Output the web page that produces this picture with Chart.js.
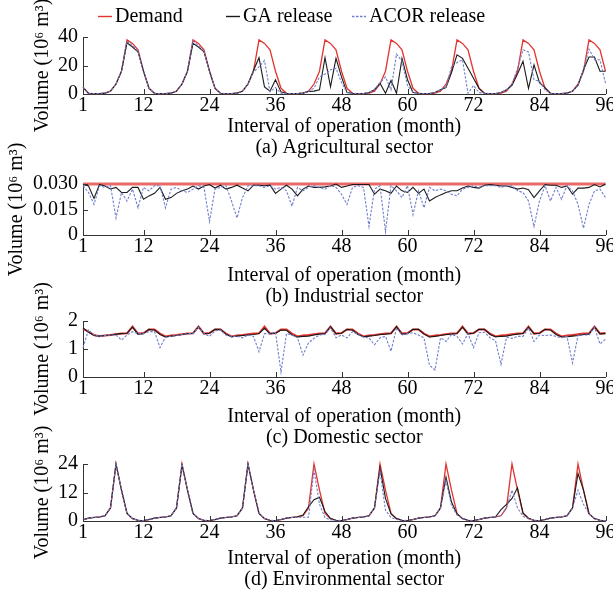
<!DOCTYPE html>
<html><head><meta charset="utf-8">
<script src="https://cdn.jsdelivr.net/npm/chart.js@4"></script>
<style>
html,body{margin:0;padding:0;background:#fff;}
#wrap{position:relative;width:613px;height:590px;overflow:hidden;background:#fff;}
canvas{position:absolute;left:0;top:0;}
</style></head><body>
<div id="wrap">
<canvas id="cA" width="613" height="590"></canvas>
<canvas id="cB" width="613" height="590"></canvas>
<canvas id="cC" width="613" height="590"></canvas>
<canvas id="cD" width="613" height="590"></canvas>
</div>
<script>
// ---------- data ----------
const months = Array.from({length: 96}, (_, i) => i + 1);
const xTickValues = [1, 12, 24, 36, 48, 60, 72, 84, 96];
const seriesNames = ['Demand', 'GA release', 'ACOR release'];
const yAxisTitle = 'Volume (10\u2076 m\u00B3)';
const xAxisTitle = 'Interval of operation (month)';
const captions = ['(a) Agricultural sector', '(b) Industrial sector', '(c) Domestic sector', '(d) Environmental sector'];

const agrTicks = [0, 20, 40];
const agrTickLabels = ['0', '20', '40'];
const agrDemand = [
 4.7,0.5,0.3,0.3,0.6,2,7,16,38,35.5,31,16,
 4,0.5,0.3,0.3,0.6,2,7,16,38,35.5,31,16,
 4,0.5,0.3,0.3,0.6,2,7,16,38,35.5,31,16,
 4,0.5,0.3,0.3,0.6,2,7,16,38,35.5,31,16,
 4,0.5,0.3,0.3,0.6,2,7,16,38,35.5,31,16,
 4,0.5,0.3,0.3,0.6,2,7,16,38,35.5,31,16,
 4,0.5,0.3,0.3,0.6,2,7,16,38,35.5,31,16,
 4,0.5,0.3,0.3,0.6,2,7,16,38,35.5,31,16];
const agrGA = [
 4.7,0.5,0.3,0.3,0.6,2,7,16,36,33,29.5,16,
 4,0.5,0.3,0.3,0.6,2,7,16,35.5,33,29.5,16,
 4,0.5,0.3,0.3,0.6,2,7,16.5,25.5,5,2,10,
 1.5,0.4,0.3,0.3,0.6,1.8,2,3,25.5,5,25,12,
 1,0.5,0.3,0.3,1,3,7.5,0.5,9.5,0.5,25,10,
 1,0.5,0.3,0.3,1,3,4.5,15,27.5,25,18,11,
 4,0.5,0.3,0.3,1,3,6,14,23,4,20.5,8,
 4.5,0.5,0.3,0.3,0.6,2,6,17,26,26,16,16];
const agrACOR = [
 4.7,0.5,0.3,0.3,0.6,2,7,16,37,34,30,16,
 4,0.5,0.3,0.3,0.6,2,7,16,37,34,30,16,
 4,0.5,0.3,0.3,0.6,2,7,15.5,19,23.5,1.6,4.5,
 0.5,0.3,0.3,0.3,0.6,2,4,12,14,17,18,8,
 1,0.5,0.3,0.3,1,3,8,12,3,28,23,6,
 1,0.5,0.3,0.3,1,3,5,19,22,24,0.5,6,
 1,0.5,0.3,0.3,1,3,7,18,31,29.5,10,9,
 3,0.5,0.3,0.3,0.6,2,6,17,31.5,24,24,7.5];

const indTicks = [0, 0.015, 0.03];
const indTickLabels = ['0', '0.015', '0.030'];
const indDemand = [
 0.03,0.03,0.03,0.03,0.03,0.03,0.03,0.03,0.03,0.03,0.03,0.03,
 0.03,0.03,0.03,0.03,0.03,0.03,0.03,0.03,0.03,0.03,0.03,0.03,
 0.03,0.03,0.03,0.03,0.03,0.03,0.03,0.03,0.03,0.03,0.03,0.03,
 0.03,0.03,0.03,0.03,0.03,0.03,0.03,0.03,0.03,0.03,0.03,0.03,
 0.03,0.03,0.03,0.03,0.03,0.03,0.03,0.03,0.03,0.03,0.03,0.03,
 0.03,0.03,0.03,0.03,0.03,0.03,0.03,0.03,0.03,0.03,0.03,0.03,
 0.03,0.03,0.03,0.03,0.03,0.03,0.03,0.03,0.03,0.03,0.03,0.03,
 0.03,0.03,0.03,0.03,0.03,0.03,0.03,0.03,0.03,0.03,0.03,0.03];
const indGA = [
 0.0297,0.0288,0.0215,0.0297,0.0288,0.0271,0.028,0.025,0.025,0.028,
 0.028,0.021,0.023,0.0245,0.028,0.021,0.022,0.0245,0.026,0.027,
 0.0288,0.027,0.0288,0.0297,0.0276,0.0293,0.027,0.028,0.0293,0.0276,
 0.026,0.0293,0.0293,0.029,0.0293,0.0245,0.027,0.0293,0.027,0.023,
 0.027,0.0288,0.028,0.028,0.0283,0.0288,0.030,0.028,0.0288,0.0297,
 0.0297,0.0297,0.0297,0.024,0.027,0.026,0.0245,0.0288,0.026,0.025,
 0.028,0.0245,0.027,0.020,0.022,0.0236,0.025,0.026,0.026,0.0276,
 0.0288,0.028,0.0276,0.0293,0.0297,0.0293,0.0288,0.0288,0.028,0.027,
 0.0276,0.0266,0.022,0.026,0.0297,0.0293,0.0293,0.028,0.0288,0.024,
 0.0276,0.0276,0.028,0.0297,0.0283,0.030];
const indACOR = [
 0.029,0.025,0.018,0.029,0.028,0.029,0.010,0.025,0.020,0.027,
 0.016,0.028,0.026,0.029,0.029,0.016,0.027,0.028,0.026,0.025,
 0.027,0.029,0.028,0.008,0.027,0.028,0.029,0.020,0.010,0.022,
 0.029,0.029,0.029,0.028,0.029,0.027,0.028,0.026,0.017,0.028,
 0.026,0.028,0.029,0.028,0.027,0.029,0.028,0.024,0.018,0.028,
 0.029,0.028,0.005,0.027,0.029,0.002,0.029,0.026,0.022,0.029,
 0.012,0.026,0.016,0.028,0.026,0.027,0.026,0.024,0.023,0.027,
 0.028,0.029,0.028,0.029,0.029,0.029,0.028,0.029,0.029,0.026,
 0.025,0.020,0.005,0.020,0.029,0.020,0.028,0.021,0.029,0.026,
 0.018,0.004,0.018,0.026,0.027,0.022];

const domTicks = [0, 1, 2];
const domTickLabels = ['0', '1', '2'];
const domDemand = [
 1.72,1.62,1.50,1.46,1.48,1.50,1.53,1.55,1.56,1.80,1.55,1.57,
 1.70,1.70,1.55,1.45,1.48,1.50,1.53,1.55,1.56,1.80,1.55,1.57,
 1.70,1.70,1.55,1.45,1.48,1.50,1.53,1.55,1.56,1.80,1.55,1.57,
 1.70,1.70,1.55,1.45,1.48,1.50,1.53,1.55,1.56,1.80,1.55,1.57,
 1.70,1.70,1.55,1.45,1.48,1.50,1.53,1.55,1.56,1.80,1.55,1.57,
 1.70,1.70,1.55,1.45,1.48,1.50,1.53,1.55,1.56,1.80,1.55,1.57,
 1.70,1.70,1.55,1.45,1.48,1.50,1.53,1.55,1.56,1.80,1.55,1.57,
 1.70,1.70,1.55,1.45,1.48,1.50,1.53,1.55,1.56,1.80,1.55,1.57];
const domGA = [
 1.75,1.60,1.48,1.46,1.48,1.50,1.53,1.55,1.56,1.78,1.53,1.55,
 1.70,1.68,1.52,1.43,1.46,1.48,1.52,1.55,1.56,1.80,1.55,1.56,
 1.70,1.70,1.53,1.44,1.46,1.48,1.50,1.52,1.55,1.74,1.55,1.56,
 1.68,1.67,1.50,1.43,1.45,1.46,1.50,1.53,1.55,1.80,1.55,1.56,
 1.70,1.68,1.52,1.44,1.46,1.48,1.52,1.53,1.55,1.80,1.53,1.55,
 1.70,1.70,1.53,1.43,1.45,1.48,1.52,1.53,1.55,1.78,1.54,1.56,
 1.70,1.70,1.52,1.44,1.45,1.46,1.50,1.53,1.55,1.78,1.55,1.56,
 1.70,1.68,1.52,1.43,1.44,1.46,1.48,1.52,1.53,1.79,1.54,1.55];
const domACOR = [
 1.05,1.68,1.50,1.45,1.48,1.50,1.50,1.32,1.50,1.62,1.55,1.55,
 1.62,1.62,1.05,1.42,1.45,1.48,1.52,1.55,1.55,1.78,1.55,1.45,
 1.65,1.68,1.50,1.45,1.45,1.40,1.50,1.45,0.90,1.55,1.55,1.60,
 0.18,1.55,1.50,1.40,0.78,1.22,1.38,1.50,1.52,1.75,1.40,1.50,
 1.40,1.62,1.52,1.42,1.40,1.15,1.40,1.45,0.92,1.75,1.50,1.55,
 1.58,1.50,1.40,0.42,0.25,1.40,1.27,1.52,1.45,1.18,1.55,1.05,
 1.58,1.60,1.40,1.30,0.45,1.42,1.38,1.45,1.45,1.75,1.27,1.50,
 1.48,1.50,1.45,1.40,1.45,0.50,1.48,1.50,1.50,1.78,1.18,1.35];

const envTicks = [0, 12, 24];
const envTickLabels = ['0', '12', '24'];
const envDemand = [
 0.5,1.2,1.5,1.7,2.2,5.5,24,13,3.2,1,0.3,0.2,
 0.6,1.2,1.5,1.7,2.2,5.5,24,13,3.2,1,0.3,0.2,
 0.6,1.2,1.5,1.7,2.2,5.5,24,13,3.2,1,0.3,0.2,
 0.6,1.2,1.5,1.7,2.2,5.5,24,13,3.2,1,0.3,0.2,
 0.6,1.2,1.5,1.7,2.2,5.5,24,13,3.2,1,0.3,0.2,
 0.6,1.2,1.5,1.7,2.2,5.5,24,13,3.2,1,0.3,0.2,
 0.6,1.2,1.5,1.7,2.2,5.5,24,13,3.2,1,0.3,0.2,
 0.6,1.2,1.5,1.7,2.2,5.5,24,13,3.2,1,0.3,0.2];
const envGA = [
 0.5,1.2,1.5,1.7,2.2,5.5,24,13,3.2,1,0.3,0.2,
 0.6,1.2,1.5,1.7,2.2,5.5,23.5,13,3.2,1,0.3,0.2,
 0.6,1.2,1.5,1.7,2.2,5.5,24,13,3.2,1,0.3,0.2,
 0.6,1.2,1.5,1.8,2.5,6,9,10,4,1,0.3,0.2,
 0.6,1.2,1.5,1.7,2.2,5.5,22.5,9.5,3,1,0.3,0.2,
 0.6,1.2,1.5,1.7,2.2,5.5,18.5,8,3,1,0.3,0.2,
 0.6,1.2,1.5,1.7,4.8,7,9.5,14,3.4,1.2,0.3,0.2,
 0.6,1.2,1.5,1.7,2.2,5.5,20,13,3,1,0.3,0.2];
const envACOR = [
 0.5,1.2,1.5,1.7,2.2,5.5,24,13,3.2,1,0.3,0.2,
 0.6,1.2,1.5,1.7,2.2,5.5,24,13,3.2,1,0.3,0.2,
 0.6,1.2,1.5,1.7,2.2,5.5,24,13,3.2,1,0.3,0.2,
 0.6,1.2,1.5,1.6,1.6,1.6,21.5,7,1.4,0.5,0.3,0.2,
 0.6,1.2,1.5,1.7,2.2,5.5,21,4.5,1.5,0.6,0.3,0.2,
 0.6,1.2,1.5,1.7,2.2,5.5,17,6.5,2.5,1,0.3,0.2,
 0.6,1.2,1.5,1.7,2.2,5.5,13,5.5,2,1,0.3,0.2,
 0.6,1.2,1.5,1.7,2.2,5.5,13,7,3,1,0.3,0.2];

// ---------- style ----------
const FONT = '"Liberation Serif", "Times New Roman", serif';
const COLORS = {demand: '#e3342f', demandThick: '#e86a6a', ga: '#1a1a1a', acor: '#6f7fcc'};
Chart.defaults.font.family = FONT;
Chart.defaults.font.size = 20;
Chart.defaults.color = '#000';

const inwardTicks = {
  id: 'inwardTicks',
  afterDatasetsDraw(chart) {
    const {ctx, chartArea, scales} = chart;
    const x = scales.x, y = scales.y;
    ctx.save();
    ctx.strokeStyle = '#333';
    ctx.lineWidth = 1;
    ctx.beginPath();
    x.ticks.forEach(t => {
      const px = Math.round(x.getPixelForValue(t.value)) + 0.5;
      ctx.moveTo(px, chartArea.bottom);
      ctx.lineTo(px, chartArea.bottom - 5);
    });
    y.ticks.forEach(t => {
      const py = Math.round(y.getPixelForValue(t.value)) + 0.5;
      ctx.moveTo(chartArea.left, py);
      ctx.lineTo(chartArea.left + 5, py);
    });
    ctx.stroke();
    ctx.restore();
  }
};

const topLegend = {
  id: 'topLegend',
  afterDraw(chart, args, opts) {
    if (!opts || !opts.show) return;
    const ctx = chart.ctx;
    ctx.save();
    ctx.font = '20px ' + FONT;
    ctx.textBaseline = 'middle';
    ctx.fillStyle = '#000';
    seriesNames.forEach((name, i) => {
      const ds = chart.data.datasets.find(d => d.label === name);
      const x0 = opts.xs[i], y0 = opts.y;
      ctx.beginPath();
      ctx.strokeStyle = ds.borderColor;
      ctx.lineWidth = 1.4;
      ctx.setLineDash(ds.borderDash || []);
      ctx.moveTo(x0, y0 + 0.5);
      ctx.lineTo(x0 + 14, y0 + 0.5);
      ctx.stroke();
      ctx.setLineDash([]);
      ctx.fillText(name, x0 + 17, y0 + 1);
    });
    ctx.restore();
  }
};

function makeChart(id, demand, ga, acor, yTicks, yTickLabels, caption, L, demandWidth, demandColor) {
  const toPts = arr => arr.map((v, i) => ({x: months[i], y: v}));
  return new Chart(document.getElementById(id), {
    type: 'line',
    data: {
      datasets: [
        {label: seriesNames[0], data: toPts(demand), borderColor: demandColor, borderWidth: demandWidth, order: 2},
        {label: seriesNames[1], data: toPts(ga), borderColor: COLORS.ga, borderWidth: 1.1, order: 1},
        {label: seriesNames[2], data: toPts(acor), borderColor: COLORS.acor, borderWidth: 1.1, borderDash: [2.5, 1.5], order: 0}
      ]
    },
    options: {
      responsive: false,
      animation: false,
      devicePixelRatio: 1,
      clip: false,
      elements: {point: {radius: 0}, line: {tension: 0, fill: false}},
      layout: {padding: {top: L.top, bottom: 590 - L.bottom - L.axisH, left: 0, right: 613 - 605.5}},
      plugins: {
        legend: {display: false},
        tooltip: {enabled: false},
        topLegend: L.legend || {show: false}
      },
      scales: {
        x: {
          type: 'linear', min: 1, max: 96,
          afterBuildTicks: s => { s.ticks = xTickValues.map(v => ({value: v})); },
          afterFit: s => { s.height = L.axisH; s.paddingLeft = 0; s.paddingRight = 0; },
          grid: {display: false, drawTicks: false},
          border: {display: true, color: '#333', width: 1},
          ticks: {autoSkip: false, maxRotation: 0, minRotation: 0, padding: 0,
                  font: {size: 20, lineHeight: 1.2}, color: '#000',
                  callback: v => String(v)},
          title: {display: true, text: [xAxisTitle, caption], color: '#000',
                  font: {size: 20, lineHeight: 1.05}, padding: {top: 0, bottom: 0}}
        },
        y: {
          type: 'linear', min: yTicks[0], max: yTicks[yTicks.length - 1],
          afterBuildTicks: s => { s.ticks = yTicks.map(v => ({value: v})); },
          afterFit: s => { s.width = 83; },
          grid: {display: false, drawTicks: false},
          border: {display: true, color: '#333', width: 1},
          ticks: {autoSkip: false, padding: 5, color: '#000', font: {size: 20, lineHeight: 1},
                  callback: (v) => { const k = yTicks.indexOf(v); return k >= 0 ? yTickLabels[k] : ''; }},
          title: {display: true, text: yAxisTitle, color: '#000',
                  font: {size: 20, lineHeight: 1.2}, padding: {top: L.titleX - 12, bottom: 0}}
        }
      }
    },
    plugins: [inwardTicks, topLegend]
  });
}

makeChart('cA', agrDemand, agrGA, agrACOR, agrTicks, agrTickLabels, captions[0],
  {top: 37, bottom: 94, axisH: 64, titleX: 43, legend: {show: true, y: 16, xs: [98, 226, 352]}}, 1.3, COLORS.demand);
makeChart('cB', indDemand, indGA, indACOR, indTicks, indTickLabels, captions[1],
  {top: 184, bottom: 235, axisH: 72, titleX: 17}, 2.8, COLORS.demandThick);
makeChart('cC', domDemand, domGA, domACOR, domTicks, domTickLabels, captions[2],
  {top: 321, bottom: 377, axisH: 71, titleX: 43}, 2, COLORS.demand);
makeChart('cD', envDemand, envGA, envACOR, envTicks, envTickLabels, captions[3],
  {top: 464, bottom: 521, axisH: 69, titleX: 43}, 1.3, COLORS.demand);
</script>
</body></html>
